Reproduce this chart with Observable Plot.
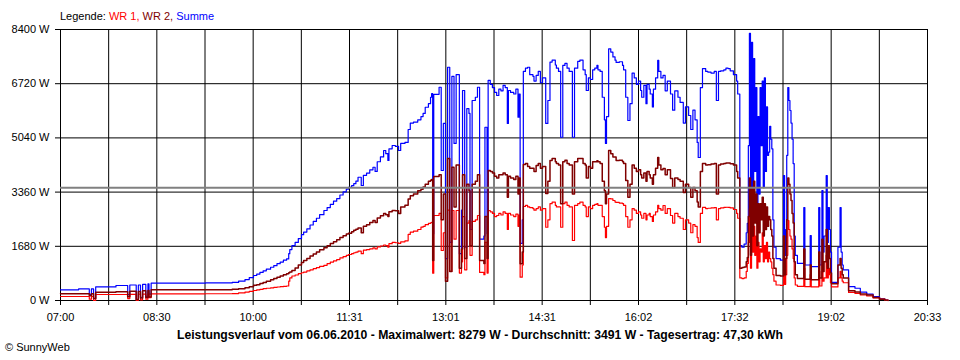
<!DOCTYPE html>
<html>
<head>
<meta charset="utf-8">
<script src="https://cdn.jsdelivr.net/npm/d3@7"></script>
<script src="https://cdn.jsdelivr.net/npm/@observablehq/plot@0.6"></script>
<style>
  html, body { margin: 0; padding: 0; background: #fff; }
  #wrap { position: relative; width: 960px; height: 360px; overflow: hidden; font-family: "Liberation Sans", Arial, sans-serif; }
  #legend { position: absolute; left: 60px; top: 10px; font-size: 11px; line-height: 13px; white-space: nowrap; }
  #caption { position: absolute; left: 0; width: 960px; top: 329px; text-align: center; font-size: 12.2px; font-weight: bold; line-height: 13px; white-space: nowrap; }
  #copy { position: absolute; left: 5px; top: 341px; font-size: 11px; line-height: 13px; white-space: nowrap; }
  #chart { position: absolute; left: 0; top: 0; }
</style>
</head>
<body>
<div id="wrap">
  <div id="chart"></div>
  <div id="legend"></div>
  <div id="caption"></div>
  <div id="copy"></div>
</div>
<script>
// ---- data (time of day, watts) ----
const times = [
  "07:00","07:17","07:27","07:29","07:31","07:33","07:52","08:03","08:05","08:11","08:13","08:15","08:17","08:20","08:22","08:23","08:25",
  "09:16","09:41","09:47","09:53","09:57","10:01","10:04","10:07","10:10","10:13","10:17","10:20","10:23","10:26","10:29","10:32","10:34","10:35","10:37","10:40","10:43","10:46","10:48","10:51","10:54","10:57","11:00","11:03","11:07","11:10","11:13","11:16","11:19","11:22","11:25","11:28","11:30",
  "11:33","11:35","11:37","11:39","11:42","11:44","11:47","11:50","11:53","11:55","11:57","12:00","12:03","12:05","12:07","12:08","12:11","12:14","12:17","12:19","12:23","12:26","12:28","12:31","12:35","12:38","12:40","12:42","12:45","12:47","12:48",
  "12:49","12:50","12:55","12:57","12:59","13:01","13:03","13:05","13:07","13:09","13:11","13:14","13:16","13:17","13:19","13:21","13:23","13:24","13:26","13:29","13:31","13:33","13:37","13:38","13:40","13:41","13:43","13:45","13:47","13:49","13:51","13:53","13:55","13:57","13:59","14:00","14:02","14:05","14:07","14:09","14:10","14:11","14:13",
  "14:14","14:16","14:18","14:20","14:23","14:24","14:26","14:28","14:30","14:32","14:35","14:37","14:39","14:41","14:44","14:45","14:47","14:49","14:51","14:53","14:55","14:57","15:00","15:02","15:05","15:07","15:10","15:12","15:13","15:15","15:17","15:19","15:21","15:23","15:24","15:26","15:28","15:30","15:31","15:32","15:34","15:36","15:38","15:40","15:41","15:44","15:47","15:48","15:50","15:52","15:54","15:56","15:58","16:00","16:02","16:04","16:05","16:07","16:09","16:10","16:12","16:13","16:15","16:16","16:18","16:20","16:21","16:23",
  "16:25","16:27","16:29","16:32","16:34","16:36","16:39","16:41","16:44","16:46","16:49","16:51","16:53","16:55","16:57","16:58","17:00","17:02","17:05","17:07","17:10","17:13","17:15","17:17","17:19","17:22","17:24","17:26","17:28","17:31","17:34","17:35",
  "17:37","17:39","17:41","17:43","17:44","17:45","17:46","17:47","17:48","17:49","17:50","17:51","17:52","17:53","17:54","17:55","17:56","17:57","17:58","17:59","18:00","18:01","18:02","18:03","18:04","18:05","18:06","18:07","18:08","18:09",
  "18:11","18:15","18:18","18:19","18:20","18:21","18:22","18:23","18:24","18:25","18:26","18:27","18:28","18:29","18:31","18:37","18:38","18:43","18:44","18:51","18:52","18:54","18:55","18:56","18:58","18:59","19:00","19:01","19:02","19:03","19:09","19:11","19:12","19:13","19:14","19:19","19:25","19:30","19:36","19:42","19:48","19:53","19:56"
];
const wr1 = [
  124,124,40,124,0,186,186,60,190,0,200,20,200,40,205,90,207,
  210,215,235,260,285,310,330,345,365,380,393,405,418,430,440,450,600,700,760,790,830,860,880,920,950,990,1020,1060,1090,1140,1190,1230,1270,1320,1360,1400,1426,
  1450,1480,1500,1530,1450,1560,1580,1600,1630,1600,1660,1690,1720,1700,1650,1760,1800,1790,1770,1820,1850,2050,2118,2150,2200,2273,2300,2350,2390,2410,2420,
  846,2635,2700,1550,2100,700,2800,900,2790,1900,2790,850,1200,2600,950,2400,2480,1400,2450,2500,2635,870,800,1800,850,2790,2750,2700,2600,2635,2700,2650,2750,2700,2200,2700,2650,2600,2680,2300,2650,723,1100,
  2914,2950,2900,2880,2850,2800,2850,2900,2800,2850,2270,2500,3000,3050,2950,2900,2900,2270,3000,3050,2950,2900,1860,2950,3000,3050,2950,2900,2600,2900,2850,2950,2980,3000,2950,2950,2600,2270,1950,2300,3160,3150,3100,3050,3040,3020,3000,2950,2600,2270,2500,2850,2800,2700,2750,2650,2550,2700,2500,2650,2700,2600,2450,2650,2750,2950,2850,2800,
  2945,2700,2850,2635,2400,2700,2600,2550,2200,2500,2400,2100,2350,2300,1950,1800,2700,2885,2850,2860,2870,2880,2500,2850,2870,2885,2890,2885,2870,2820,2700,2550,
  700,680,700,900,1150,1800,2850,1000,2500,1500,2300,1400,2000,1000,1800,1200,1600,1500,2100,1200,1700,1300,1800,1200,1500,1300,1200,1000,800,600,
  480,470,1300,500,800,1400,2480,2200,2000,1900,1600,1300,700,480,440,1000,430,800,420,900,450,1100,600,700,1400,700,1000,800,550,420,700,900,700,600,550,250,220,170,140,80,40,10,0
];
const wr2 = [
  207,207,150,207,60,258,270,120,290,30,280,80,300,90,310,110,330,
  335,345,365,395,430,470,490,525,560,600,640,680,720,760,800,830,860,880,930,1010,1100,1180,1240,1300,1380,1440,1500,1570,1633,1700,1770,1820,1880,1950,2010,2060,2087,
  2130,2180,2210,2250,2100,2300,2350,2420,2480,2420,2560,2630,2700,2660,2600,2750,2790,2780,2700,2900,2950,3150,3250,3300,3400,3450,3520,3600,3700,3730,3750,
  1240,3840,3900,2500,3300,600,4400,900,4133,2900,4200,1000,1600,3900,1300,3600,3400,1700,3600,3700,3900,1240,1150,2600,1300,4030,4000,3950,3850,3800,3900,3900,3950,3900,3200,3850,3800,3750,3850,3300,3800,1140,1500,
  4215,4250,4150,4100,4100,4000,4185,4250,4100,4150,3317,3700,4340,4400,4300,4250,4200,3000,4300,4350,4250,4200,3300,4300,4400,4400,4250,4200,3800,4150,4100,4300,4300,4330,4300,4250,3700,3400,3000,3300,4650,4550,4450,4450,4340,4350,4300,4250,3720,3200,3600,4200,4100,4000,4050,3900,3800,3950,3700,4000,3900,3800,3600,3900,4100,4433,4200,4050,
  4090,3900,4050,3780,3500,3800,3750,3700,3350,3600,3500,3200,3500,3400,3050,2900,4000,4245,4200,4210,4230,4245,3300,4200,4230,4245,4260,4260,4240,4200,4000,3800,
  1000,1020,1040,1200,1330,2600,3800,1400,3500,2000,3700,2400,3300,1700,3000,2100,3000,2500,3200,2000,3000,2200,2900,2300,2600,2500,2200,2000,1300,1000,
  775,760,2000,800,1300,2500,3800,3600,3300,3100,2700,2400,1200,800,680,1600,660,1100,640,1500,700,1900,900,1200,2200,1000,1700,1300,850,520,1100,1300,1000,800,700,300,260,200,170,90,40,10,0
];
const summe = [
  331,360,190,360,60,420,465,180,480,30,480,100,500,130,515,200,537,
  545,560,600,650,710,775,820,870,920,970,1030,1080,1140,1190,1250,1290,1450,1580,1700,1800,1920,2040,2120,2220,2340,2450,2550,2660,2790,2880,2980,3080,3160,3270,3370,3450,3510,
  3560,3620,3700,3820,3565,3880,3950,4050,4130,4000,4300,4450,4650,4550,4340,4700,4805,4780,4650,4870,4900,5300,5500,5530,5600,5700,5800,5990,6100,6300,6410,
  2070,6390,6610,4030,5490,1300,7230,1800,6950,4870,7000,1450,2800,6510,1650,5950,5800,2200,6200,6300,6610,1900,2000,5370,2070,6820,6700,6600,6450,6355,6550,6500,6665,6600,5490,6510,6450,6400,6550,5680,6400,1770,2500,
  7100,7200,7230,7000,6950,6800,6975,7100,6750,6900,5490,6200,7390,7450,7300,7200,7100,5060,7285,7350,7200,7100,5060,7200,7410,7450,7150,7000,6510,6900,6850,7150,7200,7285,7150,7100,6300,5600,4870,5700,7800,7700,7550,7450,7380,7400,7285,7150,6300,5580,6100,7050,6900,6700,6800,6510,6300,6665,6100,6700,6550,6400,6000,6550,6900,7440,7100,6900,
  6975,6500,6800,6400,5900,6500,6300,6140,5500,6000,5735,5300,5900,5600,4900,4433,6600,7190,7100,7080,7050,7100,6200,7100,7120,7150,7200,7190,7120,7000,6800,6400,
  1700,1650,1750,2100,2390,4800,8279,1900,8000,3400,7500,4000,6600,2600,5700,3300,6600,4800,6800,3500,6900,4000,6000,4500,4600,5400,5000,4700,2500,1650,
  1300,1250,3875,1400,2200,4500,6600,6200,5890,5500,5000,4245,2000,1400,1150,2880,1100,2015,1050,2880,1100,3410,1500,2000,3875,1800,2880,2200,1500,560,1650,2880,1500,1100,950,430,380,260,200,120,50,10,0
];
const average = 3491;
const yTicks = [0, 1680, 3360, 5040, 6720, 8400];
const xTickLabels = ["07:00","08:30","10:00","11:31","13:01","14:31","16:02","17:32","19:02","20:33"];
const legendItems = [["WR 1,", "#ff0000"], ["WR 2,", "#800000"], ["Summe", "#0000ff"]];
const captionText = "Leistungsverlauf vom 06.06.2010 - Maximalwert: 8279 W - Durchschnitt: 3491 W - Tagesertrag: 47,30 kWh";
const copyText = "© SunnyWeb";

// ---- build ----
const toMin = s => { const [h, m] = s.split(":").map(Number); return h * 60 + m; };
const rows = times.map((t, i) => ({m: toMin(t), wr1: wr1[i], wr2: wr2[i], summe: summe[i]}));
const x0 = toMin(xTickLabels[0]), x1 = toMin(xTickLabels[xTickLabels.length - 1]);
const step = (x1 - x0) / ((xTickLabels.length - 1) * 2);
const gridTicks = d3.range((xTickLabels.length - 1) * 2 + 1).map(i => x0 + i * step);
const fmtX = d => { const i = Math.round((d - x0) / step); return i % 2 === 0 ? xTickLabels[i / 2] : ""; };

const chart = Plot.plot({
  width: 960,
  height: 360,
  marginLeft: 60,
  marginRight: 33,
  marginTop: 29,
  marginBottom: 60,
  x: {domain: [x0, x1]},
  y: {domain: [0, 8400]},
  style: {fontFamily: "'Liberation Sans', Arial, sans-serif", fontSize: "11px", background: "white", color: "black"},
  marks: [
    Plot.gridX(gridTicks, {stroke: "black", strokeOpacity: 1, strokeWidth: 1}),
    Plot.gridY(yTicks, {stroke: "black", strokeOpacity: 1, strokeWidth: 1}),
    Plot.axisX(gridTicks, {tickSize: 5, tickPadding: 8, tickFormat: fmtX, label: null, stroke: "black"}),
    Plot.axisY(yTicks, {tickSize: 5, tickPadding: 6, tickFormat: d => `${d} W`, label: null, stroke: "black"}),
    Plot.line(rows, {x: "m", y: "summe", stroke: "#0000ff", strokeWidth: 1.2, curve: "step-after"}),
    Plot.line(rows, {x: "m", y: "wr1", stroke: "#ff0000", strokeWidth: 1.2, curve: "step-after"}),
    Plot.line(rows, {x: "m", y: "wr2", stroke: "#800000", strokeWidth: 1.5, curve: "step-after"}),
    Plot.ruleY([average], {stroke: "#808080", strokeWidth: 2})
  ]
});
document.getElementById("chart").appendChild(chart);

const legend = document.getElementById("legend");
legend.appendChild(document.createTextNode("Legende: "));
legendItems.forEach(([label, color], i) => {
  const s = document.createElement("span");
  s.style.color = color;
  s.textContent = label;
  legend.appendChild(s);
  if (i < legendItems.length - 1) legend.appendChild(document.createTextNode(" "));
});
document.getElementById("caption").textContent = captionText;
document.getElementById("copy").textContent = copyText;
</script>
</body>
</html>
